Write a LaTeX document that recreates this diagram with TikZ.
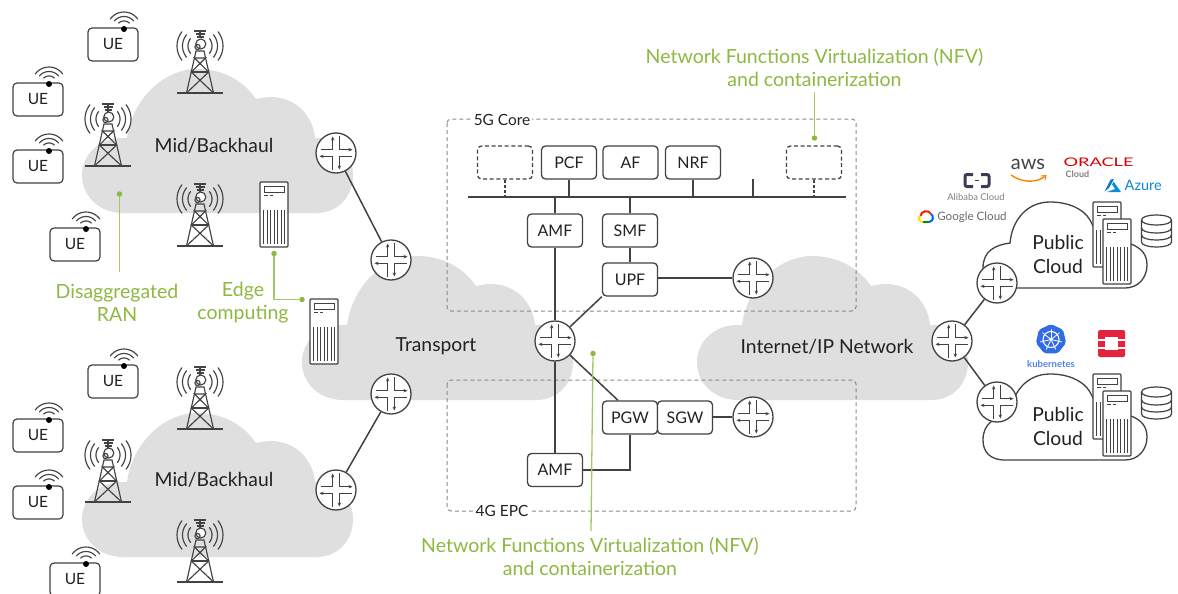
\documentclass[tikz,border=0pt]{standalone}
\usepackage{fontspec}
\setmainfont{Lato}
\usetikzlibrary{arrows.meta,calc,shapes.geometric}
\definecolor{cloudg}{HTML}{DFDFDF}
\definecolor{ink}{HTML}{424242}
\definecolor{txt}{HTML}{222222}
\definecolor{gtxt}{HTML}{8DB841}
\definecolor{gline}{HTML}{A3C86A}
\definecolor{gdot}{HTML}{8DB841}
\definecolor{dash}{HTML}{8A8A8A}
\definecolor{osred}{HTML}{E4233F}
\definecolor{kblue}{HTML}{326CE5}
\tikzset{
  ln/.style={draw=ink,line width=1.5pt},
  fnbox/.style={draw=ink,line width=1.3pt,rounded corners=4pt,fill=white,minimum width=55pt,minimum height=33pt,inner sep=0pt,font=\fontsize{16}{18}\selectfont,text=txt},
  fnghost/.style={fnbox,dash pattern=on 4pt off 2.6pt},
  uebox/.style={draw=ink,line width=1.2pt,rounded corners=4pt,fill=white,minimum width=50pt,minimum height=33pt,inner sep=0pt,font=\fontsize{15.5}{18}\selectfont,text=txt},
  rtr/.style={circle,draw=ink,line width=1.3pt,fill=white,minimum size=40pt,inner sep=0pt},
  srv/.style={draw=ink,line width=1.2pt,rounded corners=1pt,fill=white,minimum width=28pt,minimum height=65pt,inner sep=0pt},
  lbl/.style={text=txt,font=\fontsize{19.3}{24}\selectfont,align=center,inner sep=0pt},
  glbl/.style={text=gtxt,font=\fontsize{19.5}{23}\selectfont,align=center,inner sep=0pt},
  glead/.style={draw=gline,line width=1.3pt},
  gpt/.style={circle,fill=gdot,minimum size=5.5pt,inner sep=0pt},
  sect/.style={fill=white,inner sep=2pt,text=txt,font=\fontsize{15.4}{16}\selectfont},
  sectline/.style={draw=dash,line width=1pt,dash pattern=on 4pt off 3pt,rounded corners=4pt},
  rar/.style={-{Stealth[length=4pt,width=3.4pt]},draw=ink,line width=1.2pt},
  cloudfill/.style={fill=cloudg},
}
\newcommand{\cloudpath}{(123,213) .. controls (100,213) and (82,197) .. (82,175) .. controls (82,154) and (100,138) .. (122,138) -- (127,138) .. controls (132,100) and (163,69) .. (197,69) .. controls (222,69) and (243,80) .. (256,99) .. controls (261,98) and (266,97) .. (271,97) .. controls (295,97) and (313,115) .. (315,138) -- (321,138) .. controls (339,140) and (353,155) .. (353,175) .. controls (353,197) and (338,213) .. (316,213) -- cycle}
\newcommand{\pubcloud}[1]{\path[fill=white,draw=ink,line width=1.3pt,yshift=#1*-1pt] (1005,288) -- (1125,288) .. controls (1138,288) and (1147,278) .. (1147,265) .. controls (1147,254) and (1141,248) .. (1131,244) -- (1095,230) -- (1090,220) .. controls (1083,208) and (1067,202) .. (1050,202) .. controls (1027,202) and (1012,220) .. (1010,243) .. controls (995,245) and (983,251) .. (983,268) .. controls (983,280) and (990,288) .. (1005,288);}
\newcommand{\routerat}[3]{%
  \node[rtr] (#1) at (#2,#3) {};
  \begin{scope}[shift={(#2,#3)}]
    \draw[rar] (-15.5,-3.3) -- (-3.3,-3.3) -- (-3.3,-16.5);
    \draw[rar] (3.3,-17) -- (3.3,-3.3) -- (16.5,-3.3);
    \draw[rar] (15.5,3.3) -- (3.3,3.3) -- (3.3,16.5);
    \draw[rar] (-3.3,17) -- (-3.3,3.3) -- (-16.5,3.3);
  \end{scope}}
\newcommand{\warc}[5]{\draw[ink,line width=1.15pt,line cap=round] plot[domain=#4:#5,samples=13,smooth] ({#1+#3*cos(\x)},{#2-#3*sin(\x)});}
\newcommand{\ueat}[3]{%
  \node[uebox] (#1) at (#2+25,#3+16.5) {\raisebox{-.5pt}{UE}};
  \fill[black] (#2+36,#3+1) circle (3pt);
  \warc{#2+36}{#3+1}{8}{48}{132}
  \warc{#2+36}{#3+1}{12.5}{40}{140}
  \warc{#2+36}{#3+1}{17}{36}{144}}
\newcommand{\towerat}[3]{%
  \node[inner sep=0pt,minimum size=0pt] (#1) at (#2,#3) {};
  \begin{scope}[shift={(#2,#3)},ink,line width=1.15pt]
    \draw (-23,0) -- (23,0);
    \draw (-13.5,0) -- (-4,-42) -- (4,-42) -- (13.5,0);
    \draw (-13.5,0) -- (8.7,-21) -- (-5.6,-35) -- (5.6,-35) -- (-8.7,-21) -- (13.5,0);
    \draw (-8.7,-21) -- (8.7,-21);
    \draw (0,-63) -- (0,-54.5);
    \draw (-6,-62) -- (6,-62) (-4.5,-59) -- (4.5,-59) (-3.5,-56) -- (3.5,-56);
    \draw[fill=white] (0.8,-49) circle (5);
    \draw (-2.5,-46) circle (2.6);
  \end{scope}
  \warc{#2}{#3-47}{12}{-38}{38} \warc{#2}{#3-47}{12}{142}{218}
  \warc{#2}{#3-47}{17.5}{-40}{40} \warc{#2}{#3-47}{17.5}{140}{220}
  \warc{#2}{#3-47}{23}{-38}{38} \warc{#2}{#3-47}{23}{142}{218}}
\newcommand{\serverat}[3]{%
  \node[srv] (#1) at (#2+14,#3+32.5) {};
  \begin{scope}[shift={(#2,#3)},ink]
    \draw[line width=.8pt] (4,4.5) rectangle (24.5,10);
    \draw[line width=.9pt] (4,13) -- (7.5,13) (9.5,13) -- (12.5,13);
    \foreach \q in {5,8.5,12,15.5,19,22.5,26}{\draw[line width=.8pt] (\q-1.2,28) -- (\q-1.2,61.5);}
  \end{scope}}
\newcommand{\dbat}[3]{%
  \node[inner sep=0pt,minimum size=0pt] (#1) at (#2,#3) {};
  \begin{scope}[shift={(#2,#3)},ink,line width=1.2pt]
    \draw[fill=white] (-15,0) .. controls (-15,-6.7) and (15,-6.7) .. (15,0) -- (15,22) .. controls (15,28.7) and (-15,28.7) .. (-15,22) -- cycle;
    \draw (-15,0) .. controls (-15,6.7) and (15,6.7) .. (15,0);
    \draw (-15,8) .. controls (-15,14.7) and (15,14.7) .. (15,8);
    \draw (-15,15) .. controls (-15,21.7) and (15,21.7) .. (15,15);
  \end{scope}}
\begin{document}
\begin{tikzpicture}[x=1pt,y=-1pt]
\useasboundingbox (0,0) rectangle (1178,594);
% clouds
\fill[cloudfill] \cloudpath;
\begin{scope}[yshift=-344pt]\fill[cloudfill] \cloudpath;\end{scope}
\begin{scope}[xshift=220pt,yshift=-187pt]\fill[cloudfill] \cloudpath;\end{scope}
\begin{scope}[xshift=615pt,yshift=-187pt]\fill[cloudfill] \cloudpath;\end{scope}
\pubcloud{0}
\pubcloud{172}
% section frames
\draw[sectline] (447,119) rectangle (856,311);
\draw[sectline] (447,380) rectangle (856,511);
\node[sect] (sec5) at (502,120) {5G Core};
\node[sect] (sec4) at (502,511) {4G EPC};
% labels
\node[lbl] (mid1) at (214,145.5) {Mid/Backhaul};
\node[lbl] (mid2) at (214,479.5) {Mid/Backhaul};
\node[lbl] (tr) at (436,346.5) {Transport};
\node[lbl] (inet) at (827,346.5) {Internet/IP Network};
\node[lbl] (pc1) at (1058,254.5) {Public\\Cloud};
\node[lbl] (pc2) at (1058,426.5) {Public\\Cloud};
% UEs
\ueat{u1}{88}{28}\ueat{u2}{13}{83}\ueat{u3}{13}{150}\ueat{u4}{50}{228}
\ueat{u5}{88}{365}\ueat{u6}{13}{419}\ueat{u7}{13}{486}\ueat{u8}{50}{563}
% towers
\towerat{t1}{200}{93}\towerat{t2}{108}{166}\towerat{t3}{200}{246}
\towerat{t4}{200}{429}\towerat{t5}{108}{502}\towerat{t6}{200}{582}
% servers
\serverat{s1}{260}{182}\serverat{s2}{310}{299}
\serverat{s3}{1093}{202}\serverat{s4}{1103}{219}
\serverat{s5}{1093}{374}\serverat{s6}{1103}{391}
\dbat{db1}{1156.5}{220}\dbat{db2}{1156.5}{392}
% routers
\routerat{r1}{336}{153}\routerat{r2}{391}{260}\routerat{r3}{391}{394}\routerat{r4}{336}{490}
\routerat{rc}{555}{341}\routerat{rup}{753}{278}\routerat{rsg}{753}{417}
\routerat{ri}{952}{341}\routerat{rp1}{997}{283}\routerat{rp2}{997}{402}
\draw[ln] (r1) -- (r2);
\draw[ln] (r3) -- (r4);
\draw[ln] (ri) -- (rp1);
\draw[ln] (ri) -- (rp2);
% 5G
\coordinate (busL) at (468,197);
\coordinate (busR) at (846,197);
\coordinate (stub) at (753,179);
\node[fnghost] (g1) at (505,162.5) {};
\node[fnbox] (pcf) at (569,162.5) {PCF};
\node[fnbox] (af) at (630.5,162.5) {AF};
\node[fnbox] (nrf) at (693,162.5) {NRF};
\node[fnghost] (g2) at (814,162.5) {};
\node[fnbox] (amf5) at (555,230.5) {AMF};
\node[fnbox] (smf) at (630,230.5) {SMF};
\node[fnbox] (upf) at (630,279.5) {UPF};
\draw[ln] (busL) -- (busR);
\draw[ln] (pcf.south) -- (pcf.south |- busL);
\draw[ln] (nrf.south) -- (nrf.south |- busL);
\draw[ln] (stub) -- (stub |- busL);
\draw[ln,dash pattern=on 3pt off 2pt] (g1.south) -- (g1.south |- busL);
\draw[ln,dash pattern=on 3pt off 2pt] (g2.south) -- (g2.south |- busL);
\draw[ln] (amf5.north) -- (amf5.north |- busL);
\draw[ln] (smf.north) -- (smf.north |- busL);
\draw[ln] (smf) -- (upf);
\draw[ln] (amf5) -- (rc);
\draw[ln] (upf.south west) -- (rc);
\draw[ln] (rup.west) -- (rup.west -| upf.east);
% 4G
\node[fnbox] (pgw) at (630,417.5) {PGW};
\node[fnbox] (sgw) at (685,417.5) {SGW};
\node[fnbox] (amf4) at (555,470) {AMF};
\draw[ln] (rc) -- (pgw.125);
\draw[ln] (rc) -- (amf4);
\draw[ln] (amf4.east) -| (pgw.south);
\draw[ln] (rsg.west) -- (rsg.west -| sgw.east);
% green annotations
\node[glbl] (nfv1) at (814.5,67.5) {Network Functions Virtualization (NFV)\\and containerization};
\node[glbl] (nfv2) at (590,556.5) {Network Functions Virtualization (NFV)\\and containerization};
\node[glbl] (ran) at (117,302.5) {Disaggregated\\RAN};
\node[glbl] (edge) at (243,303) {Edge\\computing};
\node[gpt] (d1) at (814.5,138) {};
\coordinate (e1) at (814.5,92);
\draw[glead] (e1) -- (d1);
\node[gpt] (d2) at (593,353.5) {};
\coordinate (e2) at (591,531);
\draw[glead] (e2) -- (d2);
\node[gpt] (d3) at (119.5,194) {};
\coordinate (e3) at (119.5,272);
\draw[glead] (e3) -- (d3);
\node[gpt] (d4) at (274,253.5) {};
\node[gpt] (d5) at (302,299.5) {};
\draw[glead] (d4) |- (d5);
% logos
\begin{scope}[line width=3pt,draw=ink!90!blue]
\draw[rounded corners=2pt] (973,174.5) -- (965,174.5) -- (965,186.5) -- (973,186.5);
\draw[rounded corners=2pt] (981,174.5) -- (989,174.5) -- (989,186.5) -- (981,186.5);
\end{scope}
\draw[line width=.6pt,ink] (975,180.5) -- (979,180.5);
\node[inner sep=0pt,text=gray,font=\fontsize{9.4}{12}\selectfont] (ali) at (976,197.5) {Alibaba Cloud};
\node[inner sep=0pt,text=ink!80,font=\fontsize{11.6}{15}\selectfont] (goo) at (972,217) {Google Cloud};
\begin{scope}[line width=2pt]
\draw[red!80!orange] (920.5,216) .. controls (921,210.5) and (929,209.5) .. (931,214);
\draw[blue!60!cyan] (931,214) .. controls (934,216) and (933.5,221.5) .. (929,222);
\draw[green!55!black] (929,222) -- (923,222);
\draw[yellow!85!orange] (923,222) .. controls (918.5,222) and (917.5,217) .. (920.5,216);
\end{scope}
\node[inner sep=0pt,text=ink,font=\fontsize{20}{20}\selectfont] (aws) at (1028,164.5) {aws};
\draw[orange,line width=1.4pt] (1011,175) .. controls (1022,183) and (1036,183) .. (1045,176.5);
\draw[orange,line width=1pt] (1041,176) -- (1046,175.5) -- (1045,180);
\node[inner sep=0pt,text=red!85!black,font=\fontsize{14}{15}\selectfont] (ora) at (1098.5,162.5) {\scalebox{1.3}[.85]{ORACLE}};
\node[inner sep=0pt,text=gray,font=\fontsize{9}{10}\selectfont\bfseries] (orc) at (1077.5,174.5) {Cloud};
\fill[cyan!60!blue] (1104.5,191.5) -- (1110.5,179.5) -- (1114,179) -- (1109,188) -- cycle;
\fill[cyan!75!blue] (1113.5,181.5) -- (1121,192) -- (1107,192) -- (1115,189) -- (1112,184.5) -- cycle;
\node[inner sep=0pt,text=cyan!70!blue,font=\fontsize{14.5}{16}\selectfont,anchor=west] (az) at (1124.5,185.5) {Azure};
\node[regular polygon,regular polygon sides=7,fill=kblue,minimum size=31pt,inner sep=0pt,rounded corners=2pt] (k8s) at (1051,339.5) {};
\draw[white,line width=1.1pt] (k8s.center) circle (8);
\fill[white] (k8s.center) circle (1.8);
\foreach \a in {90,141.4,192.9,244.3,295.7,347.1,38.6}{\draw[white,line width=.8pt] (k8s.center) -- ++({11*cos(\a)},{-11*sin(\a)});}
\node[inner sep=0pt,text=kblue!85,font=\fontsize{9.5}{10}\selectfont\bfseries] (kt) at (1051,364) {kubernetes};
\fill[osred,rounded corners=1.5pt] (1098,330) rectangle (1125,357);
\fill[white] (1105,337) rectangle (1118,350);
\fill[white] (1098,339) rectangle (1105,341);
\fill[white] (1118,339) rectangle (1125,341);
\fill[white] (1098,346.5) rectangle (1105,348.5);
\fill[white] (1118,346.5) rectangle (1125,348.5);
\end{tikzpicture}
\end{document}
